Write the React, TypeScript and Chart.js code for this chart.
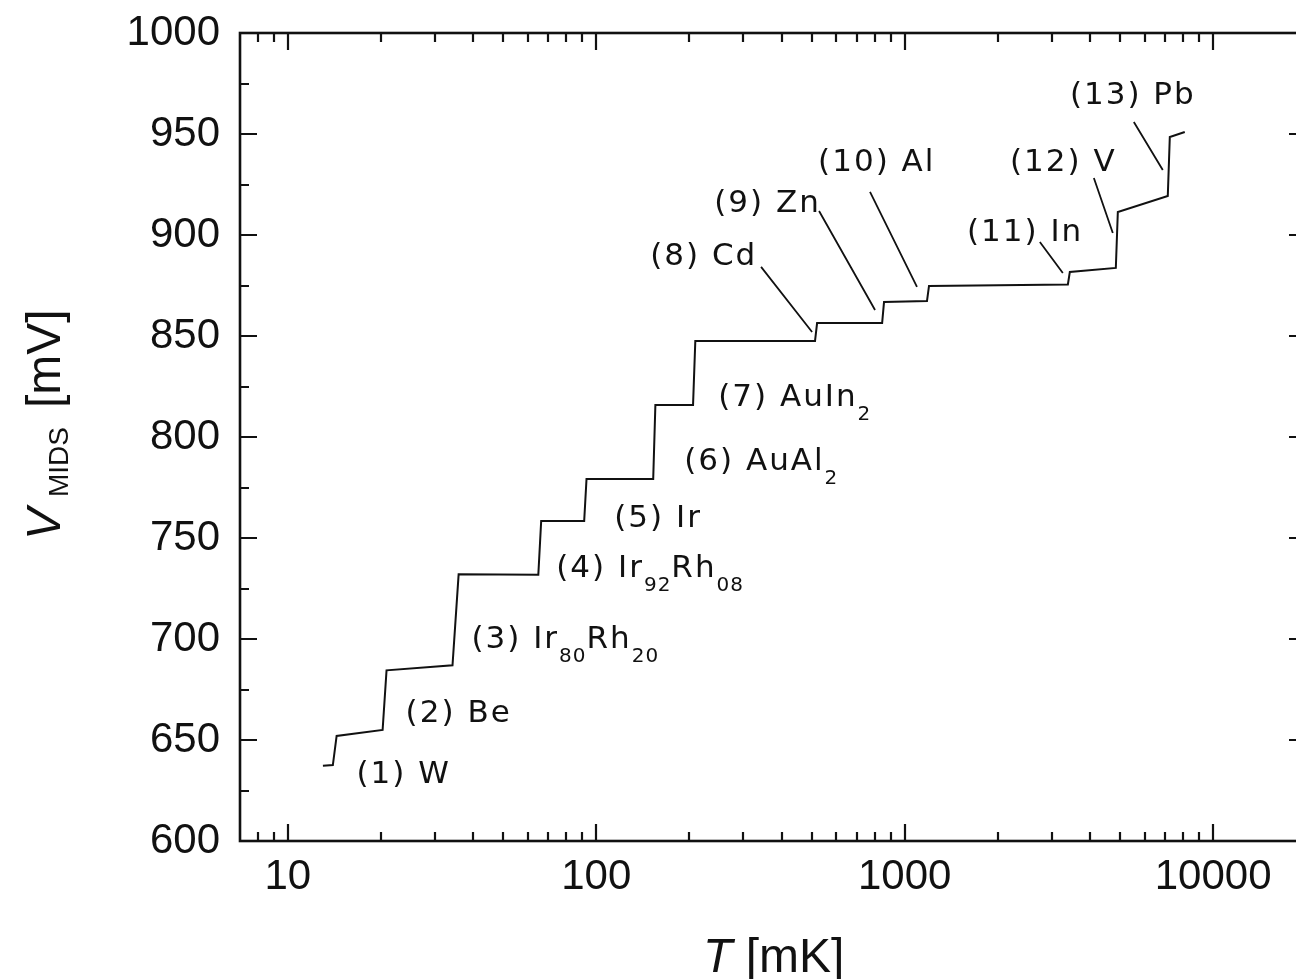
import React, { useEffect, useRef } from "react";
import { Chart, registerables } from "chart.js";

Chart.register(...registerables);

// Step curve of V_MIDS vs T (ends of each flat plateau)
const temperatureMK = [
  13.0, 14.0, 14.4, 20.3, 20.9, 34.2, 35.8, 64.9, 66.3, 91.4, 93.0, 153.0,
  155.5, 206.0, 209.5, 512, 520, 845, 857, 1181, 1199, 3381, 3431, 4836,
  4909, 7128, 7236, 8091,
];
const voltageMV = [
  637.3, 637.6, 652.0, 655.0, 684.5, 687.0, 732.0, 731.8, 758.4, 758.4,
  779.2, 779.2, 815.9, 815.9, 847.5, 847.5, 856.4, 856.4, 866.8, 867.3,
  874.8, 875.5, 881.7, 883.7, 911.4, 919.3, 948.5, 951.0,
];

const xTickValues = [10, 100, 1000, 10000];
const yTickValues = [600, 650, 700, 750, 800, 850, 900, 950, 1000];
const xRange = [7, 20000];
const yRange = [600, 1000];

type Seg = { t: string; sub?: boolean };
// text anchors: [T (left edge), V (baseline)]
const transitionLabels: { at: [number, number]; segs: Seg[] }[] = [
  { at: [16.7, 628.7], segs: [{ t: "(1) W" }] },
  { at: [24.1, 658.9], segs: [{ t: "(2) Be" }] },
  { at: [39.4, 695.5], segs: [{ t: "(3) Ir" }, { t: "80", sub: true }, { t: "Rh" }, { t: "20", sub: true }] },
  { at: [74.2, 730.7], segs: [{ t: "(4) Ir" }, { t: "92", sub: true }, { t: "Rh" }, { t: "08", sub: true }] },
  { at: [114.4, 755.4], segs: [{ t: "(5) Ir" }] },
  { at: [192.8, 783.7], segs: [{ t: "(6) AuAl" }, { t: "2", sub: true }] },
  { at: [248.5, 815.3], segs: [{ t: "(7) AuIn" }, { t: "2", sub: true }] },
  { at: [149.6, 885.1], segs: [{ t: "(8) Cd" }] },
  { at: [241.2, 911.4], segs: [{ t: "(9) Zn" }] },
  { at: [524, 931.7], segs: [{ t: "(10) Al" }] },
  { at: [1591, 897.0], segs: [{ t: "(11) In" }] },
  { at: [2194, 931.7], segs: [{ t: "(12) V" }] },
  { at: [3432, 964.8], segs: [{ t: "(13) Pb" }] },
];

// leader lines [T1, V1, T2, V2]
const leaderLines: [number, number, number, number][] = [
  [342.3, 884.2, 500.9, 852.0],
  [527.7, 911.9, 801.4, 862.9],
  [771.9, 921.3, 1096, 874.3],
  [2743, 896.5, 3256, 881.2],
  [4105, 928.2, 4728, 901.0],
  [5532, 955.9, 6866, 932.2],
];

const INK = "#111";

const decorPlugin = {
  id: "decor",
  afterDraw(chart: any) {
    const { ctx, chartArea: a, scales } = chart;
    const xs = scales.x;
    const ys = scales.y;
    ctx.save();
    ctx.strokeStyle = INK;
    ctx.fillStyle = INK;

    // frame
    ctx.lineWidth = 2.6;
    ctx.strokeRect(a.left, a.top, a.right - a.left, a.bottom - a.top);

    // x ticks (inward, top & bottom)
    ctx.lineWidth = 2.2;
    ctx.beginPath();
    for (let d = 0; d <= 4; d++) {
      for (let m = 1; m <= 9; m++) {
        const v = m * Math.pow(10, d);
        if (v <= xRange[0] || v >= xRange[1]) continue;
        const px = Math.round(xs.getPixelForValue(v));
        const len = m === 1 ? 17 : 9;
        ctx.moveTo(px, a.bottom);
        ctx.lineTo(px, a.bottom - len);
        ctx.moveTo(px, a.top);
        ctx.lineTo(px, a.top + len);
      }
    }
    // y ticks (inward, left & right)
    for (let v = yRange[0] + 25; v < yRange[1]; v += 25) {
      const py = Math.round(ys.getPixelForValue(v));
      const len = v % 50 === 0 ? 17 : 9;
      ctx.moveTo(a.left, py);
      ctx.lineTo(a.left + len, py);
      ctx.moveTo(a.right, py);
      ctx.lineTo(a.right - len, py);
    }
    ctx.stroke();

    // leader lines
    ctx.lineWidth = 1.8;
    ctx.beginPath();
    for (const [t1, v1, t2, v2] of leaderLines) {
      ctx.moveTo(xs.getPixelForValue(t1), ys.getPixelForValue(v1));
      ctx.lineTo(xs.getPixelForValue(t2), ys.getPixelForValue(v2));
    }
    ctx.stroke();

    // transition labels
    ctx.textBaseline = "alphabetic";
    ctx.textAlign = "left";
    for (const lab of transitionLabels) {
      let cx = xs.getPixelForValue(lab.at[0]);
      const by = ys.getPixelForValue(lab.at[1]);
      for (const s of lab.segs) {
        ctx.font = s.sub ? '20px "DejaVu Sans"' : '31px "DejaVu Sans"';
        (ctx as any).letterSpacing = s.sub ? "1px" : "2px";
        ctx.fillText(s.t, cx, s.sub ? by + 14 : by);
        cx += ctx.measureText(s.t).width;
      }
    }
    (ctx as any).letterSpacing = "0px";

    // x axis title
    const tx = 703;
    const ty = 972;
    ctx.font = 'italic 48px "Liberation Sans"';
    ctx.fillText("T", tx, ty);
    const tw = ctx.measureText("T ").width;
    ctx.font = '48px "Liberation Sans"';
    ctx.fillText("[mK]", tx + tw, ty);

    // y axis title (rotated)
    ctx.save();
    ctx.translate(60, 540);
    ctx.rotate(-Math.PI / 2);
    ctx.font = 'italic 48px "Liberation Sans"';
    ctx.fillText("V", 0, 0);
    ctx.font = '28px "Liberation Sans"';
    ctx.fillText("MIDS", 43, 8);
    ctx.font = '48px "Liberation Sans"';
    ctx.fillText("[mV]", 132, 0);
    ctx.restore();

    ctx.restore();
  },
};

export default function App() {
  const ref = useRef<HTMLCanvasElement | null>(null);

  useEffect(() => {
    if (!ref.current) return;
    const points = temperatureMK.map((t, i) => ({ x: t, y: voltageMV[i] }));
    const chart = new Chart(ref.current, {
      type: "scatter",
      data: {
        datasets: [
          {
            data: points,
            showLine: true,
            borderColor: INK,
            borderWidth: 2,
            pointRadius: 0,
            tension: 0,
            fill: false,
          } as any,
        ],
      },
      options: {
        animation: false,
        responsive: false,
        devicePixelRatio: 1,
        layout: { padding: { top: 33, right: 14, left: 0, bottom: 0 } },
        plugins: { legend: { display: false }, tooltip: { enabled: false } },
        scales: {
          x: {
            type: "logarithmic",
            min: xRange[0],
            max: xRange[1],
            grid: { display: false, drawTicks: false },
            border: { display: false },
            afterBuildTicks: (s: any) => {
              s.ticks = xTickValues.map((v) => ({ value: v, major: true }));
            },
            afterFit: (s: any) => {
              s.height = 138;
              s.paddingLeft = 0;
              s.paddingRight = 0;
            },
            ticks: {
              autoSkip: false,
              maxRotation: 0,
              padding: 11,
              color: INK,
              font: { family: "Liberation Sans", size: 42 },
              callback: (v: any) => String(v),
            },
          },
          y: {
            type: "linear",
            min: yRange[0],
            max: yRange[1],
            grid: { display: false, drawTicks: false },
            border: { display: false },
            afterBuildTicks: (s: any) => {
              s.ticks = yTickValues.map((v) => ({ value: v }));
            },
            afterFit: (s: any) => {
              s.width = 240;
              s.paddingTop = 0;
              s.paddingBottom = 0;
            },
            ticks: {
              padding: 20,
              color: INK,
              font: { family: "Liberation Sans", size: 42 },
              callback: (v: any) => String(v),
            },
          },
        },
      },
      plugins: [decorPlugin],
    });
    return () => chart.destroy();
  }, []);

  return (
    <div
      style={{
        position: "fixed",
        left: 0,
        top: 0,
        width: 1296,
        height: 979,
        overflow: "hidden",
        background: "#fff",
      }}
    >
      <canvas
        ref={ref}
        width={1320}
        height={979}
        style={{ display: "block", width: 1320, height: 979 }}
      />
    </div>
  );
}
